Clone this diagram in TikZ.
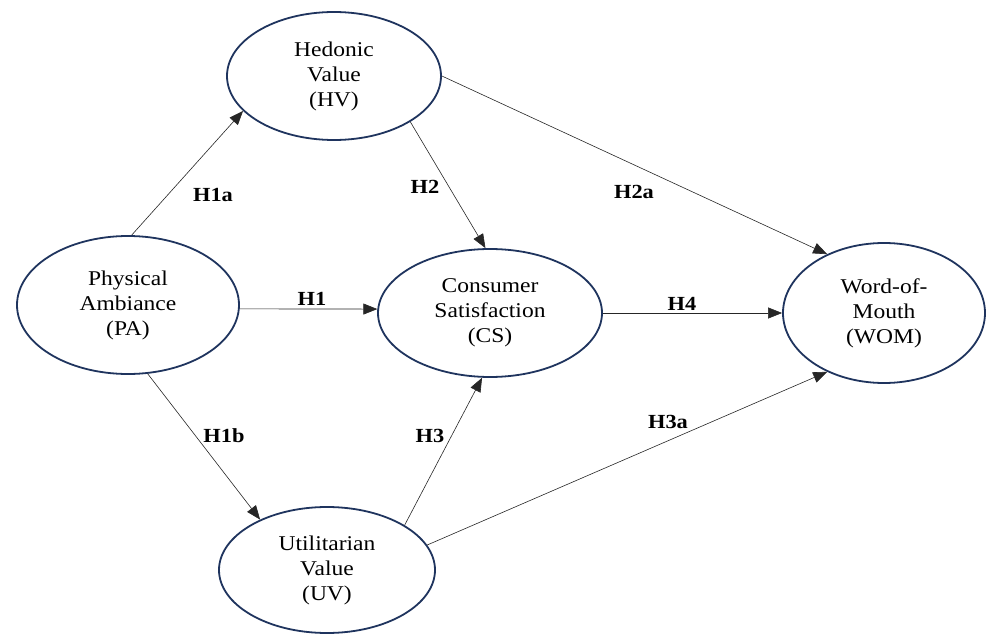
\documentclass[tikz,border=0pt]{standalone}
\usepackage{fontspec}
\setmainfont{Liberation Serif}[FakeStretch=1.12]
\usepackage{xcolor}
\definecolor{modelnavy}{RGB}{31,52,94}
\usepackage{tikz}
\usetikzlibrary{shapes.geometric, arrows.meta, positioning}

\begin{document}
\begin{tikzpicture}[x=1pt,y=-1pt,
  construct/.style={ellipse, draw=modelnavy, line width=1.8pt, fill=white,
    align=center, inner sep=0pt, font=\fontsize{21}{25}\selectfont},
  hyparrow/.style={-{Triangle[length=14pt,width=11pt]}, line width=0.6pt, black!85},
  hlabel/.style={font=\fontsize{20}{22}\selectfont\bfseries}]
\useasboundingbox (0,0) rectangle (986,634);

% constructs
\node[construct, minimum width=214pt, minimum height=128pt] (hv) at (334,76) {Hedonic\\Value\\(HV)};
\node[construct, minimum width=222pt, minimum height=138pt] (pa) at (128,305) {Physical\\Ambiance\\(PA)};
\node[construct, minimum width=224pt, minimum height=128pt] (cs) at (490,313) {Consumer\\Satisfaction\\(CS)};
\node[construct, minimum width=202pt, minimum height=140pt] (wom) at (884,313) {Word-of-\\Mouth\\(WOM)};
\node[construct, minimum width=216pt, minimum height=126pt] (uv) at (327,570) {Utilitarian\\Value\\(UV)};

% hypothesised paths
\foreach \a/\b in {pa.87/hv.201, hv.329/cs.94, hv.0/wom.134, pa.-2.1/cs.178,
                   cs.0/wom.180, pa.286/uv.143, uv.30/cs.263, uv.14/wom.226}
  \draw[hyparrow] (\a) -- (\b);

% labels
\foreach \n/\txt/\x/\y in {h1a/H1a/213/195, h2/H2/425/187, h2a/H2a/634/192,
                           h1/H1/312/299, h4/H4/682/304, h1b/H1b/224/436,
                           h3/H3/430/436, h3a/H3a/668/422}
  \node[hlabel] (lab-\n) at (\x,\y) {\txt};
\end{tikzpicture}
\end{document}
